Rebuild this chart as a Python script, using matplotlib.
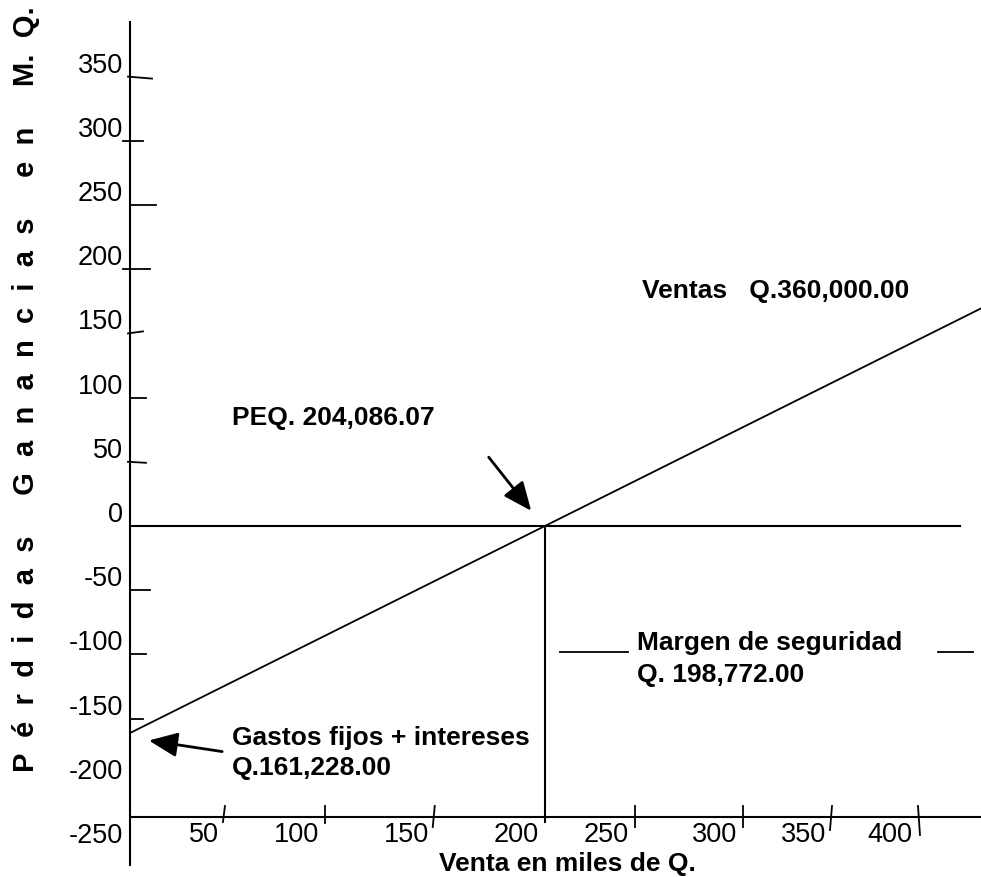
import matplotlib.pyplot as plt

plt.rcParams['font.family'] = ['Liberation Sans', 'DejaVu Sans']

# datos del punto de equilibrio (miles de Q.)
gastos_fijos = 161.228
peq = 204.08607
ventas = 360.0
margen = 198.772

y_ticks = [350, 300, 250, 200, 150, 100, 50, 0, -50, -100, -150, -200, -250]
x_ticks = [50, 100, 150, 200, 250, 300, 350, 400]
# donde quedaron las marcas del eje x (dibujadas a mano)
x_marks = [46.7, 95.9, 149.9, 204.1, 248.2, 301.5, 345.3, 387.6]

# pixeles por unidad en cada eje
sx = 2.033
sy = 1.284
px = 1 / sx
py = 1 / sy

fig = plt.figure(figsize=(9.81, 8.77), dpi=100)
ax = fig.add_axes([0, 0, 1, 1])
ax.set_xlim(-130 * px, 851 * px)
ax.set_ylim(-351 * py, 526 * py)
ax.axis('off')

x_end = 851 * px
base = -291 * py  # linea inferior (eje de ventas)
lw = 1.5

# ejes
ax.plot([0, 0], [504 * py, -339 * py], color='black', lw=lw)
ax.plot([0, 830 * px], [0, 0], color='black', lw=lw)
ax.plot([0, x_end], [base, base], color='black', lw=lw)
ax.plot([peq, peq], [0, base - 5 * py], color='black', lw=lw)

# recta de ventas
xs = [0, x_end]
ys = [-gastos_fijos + x * gastos_fijos / peq for x in xs]
ax.plot(xs, ys, color='black', lw=1.3)

# marcas del eje y (izq, der, caida en px)
y_marks = {350: (-2, 22, 2), 300: (-7, 13, 0), 250: (0, 26, 0), 200: (-7, 20, 0),
           150: (-2, 13, -2), 100: (0, 16, 0), 50: (-2, 16, 1), -50: (0, 20, 0),
           -100: (0, 16, 0), -150: (0, 13, 0)}
for v, (l, r, d) in y_marks.items():
    ax.plot([l * px, r * px], [v, v - d * py], color='black', lw=1.3)

for v in y_ticks:
    ax.text(-7 * px, v + 4 * py, str(v), ha='right', va='baseline', fontsize=19.5)

# marcas del eje x
x_low = [5, 6, 10, 0, 10, 10, 13, 18]
x_slant = [-2, 0, -2, 0, 0, 0, -2, 2]
for i, (t, m) in enumerate(zip(x_ticks, x_marks)):
    if t != 200:
        ax.plot([m, m + x_slant[i] * px], [base + 11 * py, base - x_low[i] * py],
                color='black', lw=1.3)
    ax.text(m - 6 * px, base - 25 * py, str(t), ha='right', va='baseline', fontsize=19.5)

# textos
bold = dict(fontsize=19, fontweight='bold', va='baseline')
ax.text(251.8, 177.6, 'Ventas   Q.{:,.2f}'.format(ventas * 1000), ha='left', **bold)
ax.text(50.2, 78.7, 'PEQ. {:,.2f}'.format(peq * 1000), ha='left', **bold)
ax.text(50.2, -170.6, 'Gastos fijos + intereses', ha='left', **bold)
ax.text(50.2, -193.9, 'Q.{:,.2f}'.format(gastos_fijos * 1000), ha='left', **bold)
ax.text(249.4, -96.6, 'Margen de seguridad', ha='left', **bold)
ax.text(249.4, -121.5, 'Q. {:,.2f}'.format(margen * 1000), ha='left', **bold)
ax.plot([211.5, 245.0], [-98.1, -98.1], color='black', lw=1.3)
ax.plot([397.4, 414.7], [-98.1, -98.1], color='black', lw=1.3)
ax.text(215.4, -268.5, 'Venta en miles de Q.', ha='center', **bold)

# flechas
arrow = dict(arrowstyle='-|>,head_length=0.7,head_width=0.3', color='black',
             lw=2, mutation_scale=25)
ax.annotate('', xy=(198.2, 10.1), xytext=(175.6, 55.3), arrowprops=arrow)
ax.annotate('', xy=(7.9, -166.7), xytext=(46.7, -176.0), arrowprops=arrow)

# titulo del eje y
ax.text(-47.2, 106.7,
        'P  é  r  d  i  d  a  s     G  a  n  a  n  c  i  a  s     e  n     M.  Q.',
        rotation=90, rotation_mode='anchor', ha='center', va='baseline',
        fontsize=21, fontweight='bold')

fig.savefig('out.png', dpi=100)
